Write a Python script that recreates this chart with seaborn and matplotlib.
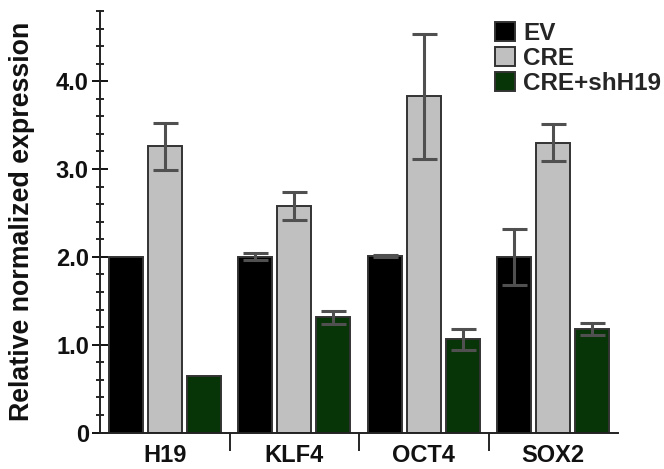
import matplotlib
matplotlib.use("Agg")
import matplotlib.pyplot as plt
import seaborn as sns
import pandas as pd
import numpy as np
from matplotlib.ticker import MultipleLocator, FixedLocator

genes = ["H19", "KLF4", "OCT4", "SOX2"]
conditions = ["EV", "CRE", "CRE+shH19"]
ev_mean = [2.00, 2.00, 2.01, 2.00]
ev_sd = [0.00, 0.04, 0.01, 0.32]
cre_mean = [3.26, 2.58, 3.83, 3.30]
cre_sd = [0.27, 0.16, 0.71, 0.21]
sh_mean = [0.64, 1.31, 1.06, 1.18]
sh_sd = [0.00, 0.07, 0.12, 0.07]
colors = ["#000000", "#c0c0c0", "#003c00"]
ytick_vals = [0, 1, 2, 3, 4]
ytick_labels = ["0", "1.0", "2.0", "3.0", "4.0"]

sns.set_style("white")
plt.rcParams["font.family"] = ["Liberation Sans", "DejaVu Sans"]

means = [ev_mean, cre_mean, sh_mean]
sds = [ev_sd, cre_sd, sh_sd]
df = pd.DataFrame({
    "gene": genes * 3,
    "cond": [c for c in conditions for _ in genes],
    "value": ev_mean + cre_mean + sh_mean,
})

fig = plt.figure(figsize=(6.64, 4.69), dpi=100)
ax = fig.add_axes([100 / 664, 1 - 432.5 / 469, 518 / 664, (432.5 - 11) / 469])

sns.barplot(data=df, x="gene", y="value", hue="cond", order=genes,
            hue_order=conditions, palette=colors, width=0.9, gap=0.12,
            errorbar=None, edgecolor="#333333", linewidth=1.4, ax=ax,
            zorder=2)

for cont, sd in zip(ax.containers, sds):
    xs, ys, es = [], [], []
    for bar, s in zip(cont, sd):
        if s > 0.005:
            xs.append(bar.get_x() + bar.get_width() / 2)
            ys.append(bar.get_height())
            es.append(s)
    ax.errorbar(xs, ys, yerr=es, fmt="none", ecolor="#505050",
                elinewidth=2.2, capsize=9, capthick=2.2, zorder=3)

ax.set_xlim(-0.5, 3.5)
ax.set_ylim(0, 4.8)

# y axis
ax.set_yticks(ytick_vals)
ax.set_yticklabels(ytick_labels)
ax.yaxis.set_minor_locator(MultipleLocator(0.2))
ax.tick_params(axis="y", which="major", direction="inout", length=12,
               width=1.4, left=True, pad=2, labelsize=17, colors="#111111")
ax.tick_params(axis="y", which="minor", direction="inout", length=6,
               width=1.4, left=True)
for lab in ax.get_yticklabels():
    lab.set_fontweight("bold")

# x axis
ax.set_xticks(range(len(genes)))
ax.set_xticklabels(genes, fontsize=17, fontweight="bold", color="#111111")
ax.xaxis.set_minor_locator(FixedLocator([0.5, 1.5, 2.5]))
ax.tick_params(axis="x", which="major", length=0, pad=8)
ax.tick_params(axis="x", which="minor", direction="out", length=13,
               width=1.4, bottom=True)

for side in ["top", "right"]:
    ax.spines[side].set_visible(False)
for side in ["left", "bottom"]:
    ax.spines[side].set_color("#222222")
    ax.spines[side].set_linewidth(1.4)

ax.set_xlabel("")
ax.set_ylabel("Relative normalized expression", fontsize=19.3,
              fontweight="bold", color="#111111")
ax.yaxis.set_label_coords((35 - 100) / 518, 0.5)

handles, labels = ax.get_legend_handles_labels()
ax.legend(handles, labels, loc="upper left",
          bbox_to_anchor=(495 / 664, 1 - 22 / 469),
          bbox_transform=fig.transFigure, frameon=False,
          prop={"family": "Liberation Sans", "weight": "bold", "size": 17.5},
          handlelength=0.82, handleheight=0.82, handletextpad=0.35,
          labelspacing=0.08, borderaxespad=0, borderpad=0)

fig.savefig("out.png", dpi=100)
